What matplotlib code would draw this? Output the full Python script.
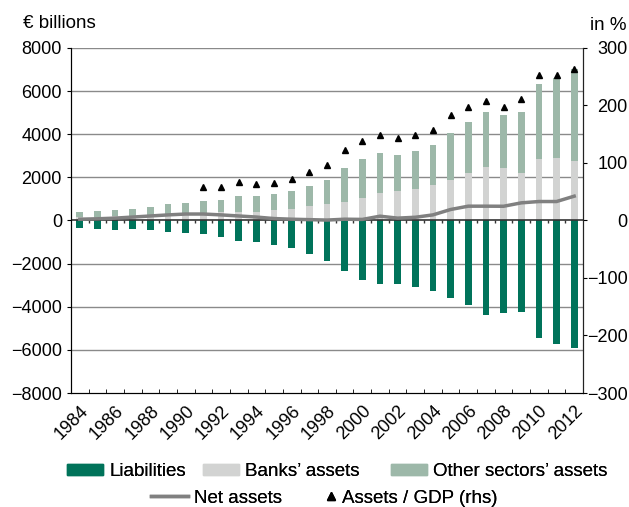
import matplotlib
matplotlib.use("Agg")
import matplotlib.pyplot as plt
import numpy as np
from matplotlib.patches import Patch
from matplotlib.lines import Line2D

plt.rcParams['font.family'] = ['Liberation Sans', 'DejaVu Sans']

years = list(range(1984, 2013))
liabilities = [-337, -383, -430, -415, -462, -538, -585, -646, -753, -952, -984, -1122,
               -1275, -1538, -1893, -2355, -2771, -2940, -2956, -3079, -3248, -3617,
               -3926, -4372, -4279, -4233, -5432, -5727, -5912]
banks_assets = [150, 170, 200, 220, 250, 280, 300, 330, 400, 417, 417, 470,
                525, 650, 757, 880, 1065, 1266, 1358, 1450, 1636, 1867,
                2191, 2469, 2423, 2223, 2840, 2886, 2765]
total_assets = [384, 431, 510, 556, 633, 757, 834, 895, 972, 1158, 1158, 1235,
                1358, 1621, 1899, 2455, 2857, 3118, 3057, 3210, 3488, 4076,
                4570, 5018, 4910, 5049, 6346, 6610, 7010]
other_assets = [t - b for t, b in zip(total_assets, banks_assets)]
net_assets = [60, 80, 110, 160, 210, 260, 300, 300, 260, 210, 160, 90,
              60, 40, 20, 60, 50, 200, 110, 150, 260, 510,
              664, 664, 660, 818, 880, 880, 1127]
gdp_years = list(range(1991, 2013))
assets_gdp = [58, 59, 67, 64, 65.5, 72, 84, 96, 122, 139, 148, 143, 149, 158, 183,
              197, 207, 198, 212, 253, 253, 263.5]

c_liab = '#00735a'
c_bank = '#d2d3d2'
c_other = '#9db8a9'
c_net = '#808080'
FS = 13
LFS = 13.5

W, H = 629, 507
fig = plt.figure(figsize=(W / 100, H / 100), dpi=100)
ax = fig.add_axes([71 / W, 1 - 393 / H, 512 / W, 345 / H])
x = np.arange(len(years))
w = 0.38

for yv in range(-6000, 8001, 2000):
    if yv != 0:
        ax.axhline(yv, color='#8a8a8a', lw=1.0, zorder=0)
ax.bar(x, liabilities, w, color=c_liab, zorder=2)
ax.bar(x, banks_assets, w, color=c_bank, zorder=2)
ax.bar(x, other_assets, w, bottom=banks_assets, color=c_other, zorder=2)
ax.axhline(0, color='#333333', lw=1.2, zorder=3)
ax.plot(x, net_assets, color=c_net, lw=2.5, zorder=4)

ax.set_xlim(-0.5, len(years) - 0.5)
ax.set_ylim(-8000, 8000)
ax.set_yticks(range(-8000, 8001, 2000))
ax.tick_params(axis='y', direction='out', length=3, labelsize=FS, pad=3.5)
ax.set_xticks(x[::2])
ax.set_xticklabels([str(y) for y in years[::2]], rotation=45, ha='right',
                   rotation_mode='anchor', fontsize=FS)
ax.tick_params(axis='x', which='major', length=0, pad=7)
ax.set_xticks(np.arange(-0.5, len(years), 1.0), minor=True)
ax.tick_params(axis='x', which='minor', direction='in', length=3)
# small ticks on the zero line
ax.vlines(np.arange(0.5, len(years) - 1, 1.0), -130, 0, color='#333333', lw=1, zorder=3)
ax.spines['top'].set_visible(False)
for s in ['left', 'bottom']:
    ax.spines[s].set_color('#222222')

ax2 = ax.twinx()
ax2.set_ylim(-300, 300)
ax2.set_yticks(range(-300, 301, 100))
ax2.tick_params(axis='y', direction='out', length=3, labelsize=FS, pad=29)
for lab in ax2.get_yticklabels():
    lab.set_horizontalalignment('right')
gx = [years.index(y) for y in gdp_years]
ax2.plot(gx, assets_gdp, linestyle='none', marker='^', color='black', markersize=4.8)
ax2.spines['top'].set_visible(False)
ax2.spines['right'].set_color('#222222')

fig.text(23 / W, 1 - 28 / H, '€ billions', fontsize=FS + 0.5, va='baseline', ha='left')
fig.text(590 / W, 1 - 30 / H, 'in %', fontsize=FS + 0.5, va='baseline', ha='left')

common = dict(frameon=False, fontsize=LFS, borderpad=0, borderaxespad=0,
              loc='center left', handletextpad=0.33)
legend_items = [
    (Patch(color=c_liab, label='Liabilities'), 67, 471.5, dict(handlelength=1.92, handleheight=0.5)),
    (Patch(color=c_bank, label='Banks\u2019 assets'), 203, 471.5, dict(handlelength=1.92, handleheight=0.5)),
    (Patch(color=c_other, label='Other sectors\u2019 assets'), 391, 471.5, dict(handlelength=1.92, handleheight=0.5)),
    (Line2D([], [], color=c_net, lw=2.5, label='Net assets'), 151, 498, dict(handlelength=1.97)),
    (Line2D([], [], color='black', marker='^', linestyle='none', markersize=6,
            label='Assets / GDP (rhs)'), 326, 498, dict(handlelength=0.55, handletextpad=0.3)),
]
for handle, px, py, kw in legend_items:
    opts = dict(common)
    opts.update(kw)
    leg = fig.legend(handles=[handle], bbox_to_anchor=(px / W, 1 - py / H), **opts)
    fig.add_artist(leg)

fig.savefig('out.png', dpi=100)
